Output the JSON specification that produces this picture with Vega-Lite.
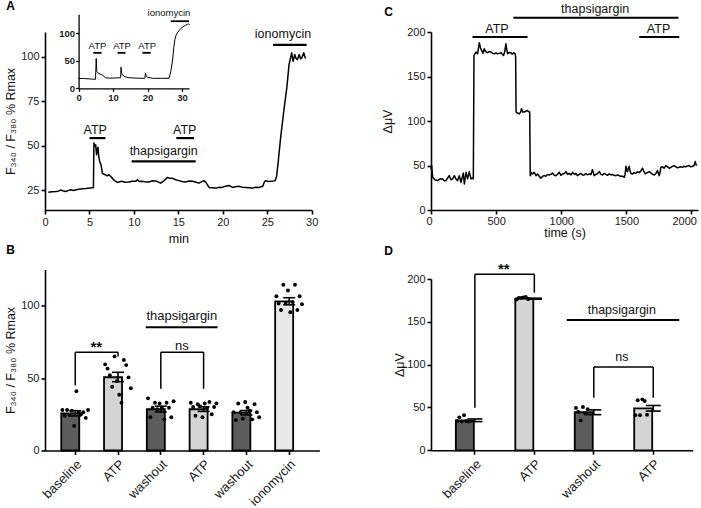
{
  "$schema": "https://vega.github.io/schema/vega-lite/v6.json",
  "background": "white",
  "padding": {"left": 4, "top": 0, "right": 4, "bottom": 4},
  "bounds": "full",
  "spacing": 61,
  "datasets": {
    "aTrace": [
      {"x":0.37,"y":24.0},{"x":0.8,"y":24.2},{"x":1.2,"y":24.4},{"x":1.5,"y":24.6},{"x":1.76,"y":25.2},{"x":2.0,"y":24.8},{"x":2.3,"y":24.4},{"x":2.6,"y":24.9},{"x":2.9,"y":25.4},{"x":3.2,"y":25.0},{"x":3.4,"y":25.2},{"x":3.8,"y":25.6},{"x":4.2,"y":26.0},{"x":4.6,"y":26.1},{"x":5.0,"y":26.3},{"x":5.3,"y":26.5},{"x":5.45,"y":26.6},{"x":5.5,"y":51.6},{"x":5.6,"y":50.0},{"x":5.7,"y":50.7},{"x":5.8,"y":45.0},{"x":5.9,"y":48.5},{"x":5.96,"y":49.2},{"x":6.05,"y":44},{"x":6.15,"y":41.3},{"x":6.3,"y":39.4},{"x":6.45,"y":34.7},{"x":6.6,"y":34.2},{"x":6.8,"y":33.8},{"x":7.0,"y":33.2},{"x":7.2,"y":33.8},{"x":7.4,"y":32.8},{"x":7.57,"y":31.9},{"x":7.8,"y":30.6},{"x":8.13,"y":29.5},{"x":8.4,"y":29.9},{"x":8.7,"y":30.1},{"x":9.0,"y":29.6},{"x":9.45,"y":29.7},{"x":9.8,"y":30.2},{"x":10.2,"y":30.1},{"x":10.4,"y":31.0},{"x":10.6,"y":30.0},{"x":10.95,"y":30.1},{"x":11.3,"y":29.8},{"x":11.7,"y":29.7},{"x":12.1,"y":30.4},{"x":12.6,"y":30.1},{"x":13.0,"y":29.1},{"x":13.4,"y":30.5},{"x":13.75,"y":32.3},{"x":14.0,"y":31.9},{"x":14.3,"y":31.9},{"x":14.7,"y":31.0},{"x":15.07,"y":30.5},{"x":15.4,"y":30.0},{"x":15.8,"y":29.7},{"x":16.2,"y":30.3},{"x":16.6,"y":30.1},{"x":17.0,"y":29.6},{"x":17.3,"y":29.1},{"x":17.6,"y":29.8},{"x":17.9,"y":30.5},{"x":18.1,"y":29.5},{"x":18.45,"y":26.7},{"x":18.8,"y":26.5},{"x":19.2,"y":26.3},{"x":19.6,"y":26.8},{"x":19.9,"y":26.7},{"x":20.3,"y":27.3},{"x":20.7,"y":27.8},{"x":21.1,"y":26.7},{"x":21.4,"y":27.0},{"x":21.8,"y":27.3},{"x":22.2,"y":26.8},{"x":22.6,"y":26.7},{"x":23.0,"y":26.5},{"x":23.3,"y":26.3},{"x":23.7,"y":26.8},{"x":24.1,"y":26.7},{"x":24.5,"y":27.3},{"x":24.65,"y":29.5},{"x":24.8,"y":30.5},{"x":25.1,"y":30.0},{"x":25.4,"y":30.1},{"x":25.7,"y":30.3},{"x":25.9,"y":30.5},{"x":26.05,"y":33},{"x":26.2,"y":39.5},{"x":26.5,"y":54.4},{"x":26.9,"y":71.3},{"x":27.2,"y":82.6},{"x":27.45,"y":95.7},{"x":27.6,"y":99},{"x":27.75,"y":102.3},{"x":27.9,"y":97.6},{"x":28.1,"y":101.4},{"x":28.25,"y":99},{"x":28.4,"y":98.5},{"x":28.6,"y":101.4},{"x":28.75,"y":99},{"x":28.9,"y":99.5},{"x":29.1,"y":102.3},{"x":29.3,"y":99.1}
    ],
    "aBars": [
      {"x":5.0,"x2":6.8,"y":54.4},{"x":14.77,"x2":16.76,"y":54.4},{"x":9.75,"x2":16.95,"y":41.3},{"x":25.65,"x2":29.43,"y":106.8}
    ],
    "aText": [
      {"x":5.65,"y":56.7,"t":"ATP"},{"x":15.72,"y":56.7,"t":"ATP"},{"x":13.35,"y":44.7,"t":"thapsigargin"},{"x":26.77,"y":110.7,"t":"ionomycin"}
    ],
    "insTrace": [
      {"x":0,"y":18},{"x":1.5,"y":17.8},{"x":3,"y":17.2},{"x":4.9,"y":16.4},{"x":5.1,"y":54.5},{"x":5.3,"y":30},{"x":5.5,"y":28.4},{"x":6.2,"y":26},{"x":6.9,"y":24.2},{"x":7.8,"y":19.3},{"x":9,"y":18.5},{"x":12.2,"y":19.3},{"x":12.3,"y":38.7},{"x":12.5,"y":27},{"x":12.7,"y":24.2},{"x":13.5,"y":21},{"x":14.6,"y":19.3},{"x":17,"y":18.5},{"x":19.2,"y":18.2},{"x":19.4,"y":27.3},{"x":19.6,"y":22},{"x":19.9,"y":20.5},{"x":21.4,"y":18.2},{"x":24,"y":18.2},{"x":26.2,"y":18.2},{"x":26.7,"y":30},{"x":27.2,"y":49.6},{"x":27.6,"y":75},{"x":27.9,"y":89},{"x":28.2,"y":96},{"x":28.6,"y":101},{"x":29.1,"y":105},{"x":29.6,"y":109},{"x":30.3,"y":112.5},{"x":31,"y":115},{"x":31.5,"y":116.5},{"x":31.8,"y":117.5},{"x":32.2,"y":116}
    ],
    "insBars": [
      {"x":4.26,"x2":6.67,"y":64.7},{"x":11.3,"x2":13.6,"y":64.7},{"x":18.5,"x2":20.9,"y":64.7},{"x":26.7,"x2":32.0,"y":122.4}
    ],
    "insText": [
      {"x":5.47,"y":72,"t":"ATP"},{"x":12.6,"y":72,"t":"ATP"},{"x":19.9,"y":72,"t":"ATP"},{"x":26.2,"y":131.5,"t":"ionomycin"}
    ],
    "cTrace": [
      {"x":0,"y":46},{"x":5,"y":50},{"x":13,"y":36.8},{"x":30,"y":34},{"x":51,"y":33},{"x":70,"y":35},{"x":89,"y":34.9},{"x":100,"y":33},{"x":115,"y":33},{"x":128,"y":36},{"x":140,"y":38.6},{"x":153,"y":34},{"x":166,"y":34.9},{"x":179,"y":38.6},{"x":191,"y":35},{"x":204,"y":33},{"x":217,"y":38.6},{"x":230,"y":31.2},{"x":248,"y":41.6},{"x":256,"y":29.3},{"x":269,"y":42.4},{"x":281,"y":34.9},{"x":294,"y":43.1},{"x":307,"y":34.9},{"x":316,"y":36},{"x":325,"y":34.9},{"x":330,"y":173.7},{"x":345,"y":177.5},{"x":358,"y":175.6},{"x":371,"y":188},{"x":380,"y":182},{"x":389,"y":179.3},{"x":400,"y":176},{"x":409,"y":181.2},{"x":420,"y":178},{"x":434,"y":176.7},{"x":447,"y":178},{"x":460,"y":177.5},{"x":473,"y":176},{"x":486,"y":175.6},{"x":499,"y":176.5},{"x":511,"y":175.6},{"x":524,"y":176},{"x":537,"y":176.7},{"x":547,"y":175},{"x":557,"y":173.7},{"x":566,"y":178},{"x":575,"y":186.8},{"x":582,"y":180},{"x":588,"y":175.6},{"x":601,"y":177},{"x":614,"y":176.7},{"x":624,"y":175},{"x":634,"y":176.7},{"x":645,"y":175.6},{"x":650,"y":172},{"x":653,"y":110},{"x":665,"y":109},{"x":678,"y":108},{"x":688,"y":110},{"x":695,"y":113.7},{"x":705,"y":110},{"x":716,"y":110},{"x":728,"y":111},{"x":741,"y":111.8},{"x":754,"y":110},{"x":758,"y":110},{"x":762,"y":38.6},{"x":771,"y":42},{"x":780,"y":40.5},{"x":793,"y":42.4},{"x":806,"y":38.6},{"x":818,"y":40.5},{"x":831,"y":38},{"x":844,"y":35.7},{"x":857,"y":38},{"x":870,"y":38.6},{"x":882,"y":38},{"x":895,"y":40},{"x":908,"y":39.4},{"x":920,"y":40},{"x":933,"y":41.6},{"x":946,"y":39},{"x":959,"y":38.6},{"x":972,"y":40},{"x":985,"y":42.4},{"x":997,"y":39},{"x":1010,"y":40.5},{"x":1023,"y":41},{"x":1036,"y":43.1},{"x":1050,"y":40},{"x":1062,"y":41},{"x":1075,"y":39.5},{"x":1087,"y":42.4},{"x":1100,"y":40},{"x":1112,"y":41},{"x":1125,"y":38.6},{"x":1138,"y":40},{"x":1150,"y":41},{"x":1163,"y":39.4},{"x":1176,"y":39.4},{"x":1189,"y":41},{"x":1202,"y":39.5},{"x":1215,"y":40.5},{"x":1228,"y":40},{"x":1240,"y":45.4},{"x":1253,"y":38.6},{"x":1266,"y":40},{"x":1279,"y":41},{"x":1292,"y":43.1},{"x":1305,"y":40},{"x":1317,"y":39.4},{"x":1330,"y":41},{"x":1343,"y":40},{"x":1355,"y":39},{"x":1368,"y":40.5},{"x":1381,"y":39.5},{"x":1394,"y":40},{"x":1407,"y":39},{"x":1420,"y":38.6},{"x":1433,"y":39.5},{"x":1446,"y":38.5},{"x":1458,"y":37.9},{"x":1471,"y":38},{"x":1484,"y":36.8},{"x":1490,"y":40},{"x":1497,"y":49.2},{"x":1503,"y":44},{"x":1509,"y":43.1},{"x":1515,"y":47},{"x":1522,"y":49.2},{"x":1528,"y":44},{"x":1535,"y":41},{"x":1547,"y":40.5},{"x":1560,"y":42},{"x":1573,"y":41},{"x":1586,"y":43.1},{"x":1599,"y":42},{"x":1612,"y":44},{"x":1624,"y":46.9},{"x":1635,"y":43},{"x":1645,"y":40.5},{"x":1660,"y":42},{"x":1675,"y":43.1},{"x":1690,"y":41.5},{"x":1701,"y":40},{"x":1714,"y":39.4},{"x":1726,"y":41},{"x":1739,"y":44.2},{"x":1752,"y":38.6},{"x":1758,"y":42},{"x":1765,"y":48},{"x":1778,"y":48.5},{"x":1790,"y":47},{"x":1803,"y":49.9},{"x":1816,"y":48.5},{"x":1829,"y":46.9},{"x":1842,"y":48},{"x":1855,"y":49},{"x":1867,"y":49.9},{"x":1880,"y":48.5},{"x":1893,"y":47.5},{"x":1906,"y":48},{"x":1918,"y":48.5},{"x":1931,"y":48},{"x":1944,"y":49.2},{"x":1957,"y":48.5},{"x":1969,"y":49.5},{"x":1982,"y":49.9},{"x":1995,"y":48.5},{"x":2008,"y":49.2},{"x":2020,"y":50},{"x":2029,"y":54.4},{"x":2035,"y":51},{"x":2040,"y":49.9}
    ],
    "cBars": [
      {"x":319,"x2":741,"y":194.4},{"x":632,"x2":1900,"y":216},{"x":1599,"x2":1906,"y":194.4}
    ],
    "cText": [
      {"x":506,"y":198.9,"t":"ATP"},{"x":1260,"y":221.7,"t":"thapsigargin"},{"x":1747,"y":198.9,"t":"ATP"}
    ],
    "bBars": [
      {"k":"baseline","m":25.7,"lo":23.9,"hi":27.5,"g":"d"},
      {"k":"ATP","m":50.6,"lo":47.5,"hi":54,"g":"l"},
      {"k":"washout","m":28.5,"lo":26.6,"hi":30.6,"g":"d"},
      {"k":"ATP-t","m":28.5,"lo":27,"hi":30.2,"g":"l"},
      {"k":"washout-t","m":26.1,"lo":24.6,"hi":27.6,"g":"d"},
      {"k":"ionomycin","m":103,"lo":100.6,"hi":105.5,"g":"p"}
    ],
    "bDots": [
      {"k":"baseline","n":1,"v":28},{"k":"baseline","n":2,"v":24},{"k":"baseline","n":3,"v":28},{"k":"baseline","n":4,"v":24.5},{"k":"baseline","n":5,"v":27.5},{"k":"baseline","n":6,"v":17},{"k":"baseline","n":7,"v":41},{"k":"baseline","n":8,"v":26.5},{"k":"baseline","n":9,"v":25},{"k":"baseline","n":10,"v":26.5},{"k":"baseline","n":11,"v":22.5},{"k":"baseline","n":12,"v":28},
      {"k":"ATP","n":1,"v":59.5},{"k":"ATP","n":2,"v":56.5},{"k":"ATP","n":3,"v":52},{"k":"ATP","n":4,"v":44},{"k":"ATP","n":5,"v":65},{"k":"ATP","n":6,"v":48},{"k":"ATP","n":7,"v":38.5},{"k":"ATP","n":8,"v":33},{"k":"ATP","n":9,"v":62.5},{"k":"ATP","n":10,"v":59},{"k":"ATP","n":11,"v":50.5},{"k":"ATP","n":12,"v":43},
      {"k":"washout","n":1,"v":36},{"k":"washout","n":2,"v":23},{"k":"washout","n":3,"v":29.5},{"k":"washout","n":4,"v":33},{"k":"washout","n":5,"v":28.5},{"k":"washout","n":6,"v":32.5},{"k":"washout","n":7,"v":29},{"k":"washout","n":8,"v":21.5},{"k":"washout","n":9,"v":33},{"k":"washout","n":10,"v":29.5},{"k":"washout","n":11,"v":23},{"k":"washout","n":12,"v":34},
      {"k":"ATP-t","n":1,"v":33},{"k":"ATP-t","n":2,"v":30},{"k":"ATP-t","n":3,"v":24},{"k":"ATP-t","n":4,"v":32},{"k":"ATP-t","n":5,"v":30.5},{"k":"ATP-t","n":6,"v":23},{"k":"ATP-t","n":7,"v":32.5},{"k":"ATP-t","n":8,"v":29.5},{"k":"ATP-t","n":9,"v":33.5},{"k":"ATP-t","n":10,"v":25},{"k":"ATP-t","n":11,"v":30},{"k":"ATP-t","n":12,"v":32.5},
      {"k":"washout-t","n":1,"v":26.5},{"k":"washout-t","n":2,"v":21},{"k":"washout-t","n":3,"v":32.5},{"k":"washout-t","n":4,"v":26.5},{"k":"washout-t","n":5,"v":22},{"k":"washout-t","n":6,"v":33.5},{"k":"washout-t","n":7,"v":29.5},{"k":"washout-t","n":8,"v":27.5},{"k":"washout-t","n":9,"v":21.5},{"k":"washout-t","n":10,"v":32},{"k":"washout-t","n":11,"v":26.5},{"k":"washout-t","n":12,"v":23},
      {"k":"ionomycin","n":1,"v":106.5},{"k":"ionomycin","n":2,"v":101.5},{"k":"ionomycin","n":3,"v":97},{"k":"ionomycin","n":4,"v":114.5},{"k":"ionomycin","n":5,"v":102},{"k":"ionomycin","n":6,"v":110.5},{"k":"ionomycin","n":7,"v":95.5},{"k":"ionomycin","n":8,"v":102.5},{"k":"ionomycin","n":9,"v":114.5},{"k":"ionomycin","n":10,"v":97},{"k":"ionomycin","n":11,"v":106.5},{"k":"ionomycin","n":12,"v":101}
    ],
    "bBr": [
      {"k":"baseline","k2":"baseline","y":44.9,"y2":67.9},
      {"k":"baseline","k2":"ATP","y":67.9,"y2":67.9},
      {"k":"ATP","k2":"ATP","y":65,"y2":67.9},
      {"k":"washout","k2":"washout","y":42.6,"y2":67.9},
      {"k":"washout","k2":"ATP-t","y":67.9,"y2":67.9},
      {"k":"ATP-t","k2":"ATP-t","y":42.6,"y2":67.9}
    ],
    "dBars": [
      {"k":"baseline","m":35,"lo":33.5,"hi":36.6,"g":"d"},
      {"k":"ATP","m":177,"lo":176.4,"hi":177.6,"g":"l"},
      {"k":"washout","m":44.4,"lo":41.6,"hi":47.2,"g":"d"},
      {"k":"ATP-t","m":49,"lo":45.8,"hi":52.3,"g":"l"}
    ],
    "dDots": [
      {"k":"baseline","n":1,"v":34},{"k":"baseline","n":2,"v":38.5},{"k":"baseline","n":3,"v":33.5},{"k":"baseline","n":4,"v":41},{"k":"baseline","n":5,"v":34},{"k":"baseline","n":6,"v":33.5},
      {"k":"ATP","n":1,"v":176},{"k":"ATP","n":2,"v":178},{"k":"ATP","n":3,"v":178},{"k":"ATP","n":4,"v":178.5},{"k":"ATP","n":5,"v":179},{"k":"ATP","n":6,"v":176.5},
      {"k":"washout","n":1,"v":49.5},{"k":"washout","n":2,"v":45},{"k":"washout","n":3,"v":35},{"k":"washout","n":4,"v":50.5},{"k":"washout","n":5,"v":43},{"k":"washout","n":6,"v":48},
      {"k":"ATP-t","n":1,"v":41},{"k":"ATP-t","n":2,"v":58.5},{"k":"ATP-t","n":3,"v":41},{"k":"ATP-t","n":4,"v":59.5},{"k":"ATP-t","n":5,"v":57.5},{"k":"ATP-t","n":6,"v":41.5}
    ],
    "dBr": [
      {"k":"baseline","k2":"baseline","y":49.7,"y2":205.6},
      {"k":"baseline","k2":"ATP","y":205.6,"y2":205.6},
      {"k":"ATP","k2":"ATP","y":184,"y2":205.6},
      {"k":"washout","k2":"washout","y":61.4,"y2":97.3},
      {"k":"washout","k2":"ATP-t","y":97.3,"y2":97.3},
      {"k":"ATP-t","k2":"ATP-t","y":61.4,"y2":97.3}
    ]
  },
  "hconcat": [
    {
      "bounds": "flush",
      "spacing": 59.5,
      "vconcat": [
        {
          "title": {"text": "A", "dx": -38.7, "dy": 9},
          "width": 266.7,
          "height": 178,
          "layer": [
            {
              "encoding": {
                "x": {"field": "x", "type": "quantitative", "scale": {"domain": [0, 30], "nice": false, "zero": false}, "axis": {"values": [0,5,10,15,20,25,30], "title": "min", "titlePadding": 5}},
                "y": {"field": "y", "type": "quantitative", "scale": {"domain": [14, 114], "nice": false, "zero": false}, "axis": {"values": [25,50,75,100], "title": "F₃₄₀ / F₃₈₀ % Rmax", "titleX": -27.5}}
              },
              "layer": [
                {"data": {"name": "aTrace"}, "mark": {"type": "line", "color": "#000", "strokeWidth": 1.5, "strokeJoin": "round"}},
                {"data": {"name": "aBars"}, "mark": {"type": "rule", "color": "#000", "strokeWidth": 2.2}, "encoding": {"x2": {"field": "x2"}}},
                {"data": {"name": "aText"}, "mark": {"type": "text", "fontSize": 12.5, "baseline": "alphabetic", "align": "center"}, "encoding": {"text": {"field": "t"}}}
              ]
            },
            {
              "encoding": {
                "x": {"field": "x", "type": "quantitative", "scale": {"domain": [0, 32], "range": [33.6, 144], "nice": false, "zero": false}, "axis": {"orient": "bottom", "offset": -121.7, "values": [0,10,20,30], "title": null, "labelFontWeight": "bold", "labelFontSize": 9.5, "tickSize": 3, "domainWidth": 1.3, "tickWidth": 1.3, "labelPadding": 1}},
                "y": {"field": "y", "type": "quantitative", "scale": {"domain": [0, 135], "range": [56.3, -17.7], "nice": false, "zero": false}, "axis": {"orient": "left", "offset": -33.6, "values": [0,50,100], "title": null, "labelFontWeight": "bold", "labelFontSize": 9.5, "tickSize": 3, "domainWidth": 1.3, "tickWidth": 1.3, "labelPadding": 1}}
              },
              "layer": [
                {"data": {"name": "insTrace"}, "mark": {"type": "line", "color": "#000", "strokeWidth": 1}},
                {"data": {"name": "insBars"}, "mark": {"type": "rule", "color": "#000", "strokeWidth": 1.8}, "encoding": {"x2": {"field": "x2"}}},
                {"data": {"name": "insText"}, "mark": {"type": "text", "fontSize": 9.5, "baseline": "alphabetic", "align": "center"}, "encoding": {"text": {"field": "t"}}}
              ]
            }
          ],
          "resolve": {"scale": {"x": "independent", "y": "independent"}, "axis": {"x": "independent", "y": "independent"}}
        },
        {
          "title": {"text": "B", "dx": -38.7, "dy": -9},
          "width": 274.4,
          "height": 181,
          "encoding": {
            "x": {"field": "k", "type": "nominal", "scale": {"domain": ["baseline","ATP","washout","ATP-t","washout-t","ionomycin"], "paddingInner": 0.346, "paddingOuter": 0.38}, "axis": {"title": null, "labelExpr": "split(datum.label, '-')[0]", "labelAngle": -45, "labelAlign": "right", "labelBaseline": "top", "labelFontSize": 13, "labelPadding": 3}}
          },
          "layer": [
            {"data": {"name": "bBars"}, "mark": {"type": "bar", "stroke": "#000", "strokeWidth": 1.8},
             "encoding": {
               "y": {"field": "m", "type": "quantitative", "scale": {"domain": [0, 125], "nice": false}, "axis": {"values": [0,50,100], "title": "F₃₄₀ / F₃₈₀ % Rmax", "titleX": -27.5}},
               "fill": {"field": "g", "type": "nominal", "scale": {"domain": ["d","l","p"], "range": ["#5c5c5c","#d4d4d4","#e8e8e8"]}, "legend": null}
             }},
            {"data": {"name": "bBars"}, "mark": {"type": "rule", "color": "#000", "strokeWidth": 1.6}, "encoding": {"y": {"field": "lo", "type": "quantitative"}, "y2": {"field": "hi"}}},
            {"data": {"name": "bBars"}, "mark": {"type": "tick", "color": "#000", "thickness": 1.6, "size": 12, "opacity": 1}, "encoding": {"y": {"field": "lo", "type": "quantitative"}}},
            {"data": {"name": "bBars"}, "mark": {"type": "tick", "color": "#000", "thickness": 1.6, "size": 12, "opacity": 1}, "encoding": {"y": {"field": "hi", "type": "quantitative"}}},
            {"data": {"name": "bDots"}, "mark": {"type": "circle", "size": 15, "color": "#000", "opacity": 1}, "encoding": {"y": {"field": "v", "type": "quantitative"}, "xOffset": {"field": "n", "type": "ordinal"}}},
            {"data": {"name": "bBr"}, "mark": {"type": "rule", "color": "#000", "strokeWidth": 1.5}, "encoding": {"x2": {"field": "k2"}, "y": {"field": "y", "type": "quantitative"}, "y2": {"field": "y2"}}},
            {"data": {"values": [{"k":"washout","k2":"ATP-t","y":85.2}]}, "mark": {"type": "rule", "color": "#000", "strokeWidth": 2, "xOffset": -15, "x2Offset": 14}, "encoding": {"x2": {"field": "k2"}, "y": {"field": "y", "type": "quantitative"}}},
            {"data": {"values": [{"k":"washout","y":69.5,"t":"ns"},{"k":"washout","y":90.3,"t":"thapsigargin"}]}, "mark": {"type": "text", "fontSize": 13, "dx": 21, "baseline": "alphabetic", "align": "center"}, "encoding": {"y": {"field": "y", "type": "quantitative"}, "text": {"field": "t"}}},
            {"data": {"values": [{"k":"baseline","y":68.3,"t":"**"}]}, "mark": {"type": "text", "fontSize": 15, "fontWeight": "bold", "dx": 21, "baseline": "alphabetic", "align": "center"}, "encoding": {"y": {"field": "y", "type": "quantitative"}, "text": {"field": "t"}}}
          ]
        }
      ]
    },
    {
      "bounds": "flush",
      "spacing": 69,
      "vconcat": [
        {
          "title": {"text": "C", "dx": -46.7, "dy": 20},
          "width": 267,
          "height": 178,
          "encoding": {
            "x": {"field": "x", "type": "quantitative", "scale": {"domain": [0, 2050], "nice": false, "zero": false}, "axis": {"values": [0,500,1000,1500,2000], "format": "d", "title": "time (s)", "titlePadding": 0, "labelPadding": 1, "labelFlush": 8, "labelFlushOffset": 5}},
            "y": {"field": "y", "type": "quantitative", "scale": {"domain": [0, 200], "nice": false}, "axis": {"values": [0,50,100,150,200], "title": "ΔμV", "titleX": -36.5}}
          },
          "layer": [
            {"data": {"name": "cTrace"}, "mark": {"type": "line", "color": "#000", "strokeWidth": 1.5, "strokeJoin": "round"}},
            {"data": {"name": "cBars"}, "mark": {"type": "rule", "color": "#000", "strokeWidth": 2}, "encoding": {"x2": {"field": "x2"}}},
            {"data": {"name": "cText"}, "mark": {"type": "text", "fontSize": 12.5, "baseline": "alphabetic", "align": "center"}, "encoding": {"text": {"field": "t"}}}
          ]
        },
        {
          "title": {"text": "D", "dx": -46.7, "dy": 0},
          "width": 261.6,
          "height": 171.3,
          "encoding": {
            "x": {"field": "k", "type": "nominal", "scale": {"domain": ["baseline","ATP","washout","ATP-t"], "paddingInner": 0.36, "paddingOuter": 0.38, "align": 0.55}, "axis": {"title": null, "labelExpr": "split(datum.label, '-')[0]", "labelAngle": -45, "labelAlign": "right", "labelBaseline": "top", "labelFontSize": 13, "labelPadding": 3}}
          },
          "layer": [
            {"data": {"name": "dBars"}, "mark": {"type": "bar", "stroke": "#000", "strokeWidth": 1.8},
             "encoding": {
               "y": {"field": "m", "type": "quantitative", "scale": {"domain": [0, 200], "nice": false}, "axis": {"values": [0,50,100,150,200], "title": "ΔμV", "titleX": -24.3}},
               "fill": {"field": "g", "type": "nominal", "scale": {"domain": ["d","l"], "range": ["#5c5c5c","#d4d4d4"]}, "legend": null}
             }},
            {"data": {"name": "dBars"}, "mark": {"type": "rule", "color": "#000", "strokeWidth": 1.6}, "encoding": {"y": {"field": "lo", "type": "quantitative"}, "y2": {"field": "hi"}}},
            {"data": {"name": "dBars"}, "mark": {"type": "tick", "color": "#000", "thickness": 1.6, "size": 15, "opacity": 1}, "encoding": {"y": {"field": "lo", "type": "quantitative"}}},
            {"data": {"name": "dBars"}, "mark": {"type": "tick", "color": "#000", "thickness": 1.6, "size": 15, "opacity": 1}, "encoding": {"y": {"field": "hi", "type": "quantitative"}}},
            {"data": {"name": "dDots"}, "mark": {"type": "circle", "size": 15, "color": "#000", "opacity": 1}, "encoding": {"y": {"field": "v", "type": "quantitative"}, "xOffset": {"field": "n", "type": "ordinal", "scale": {"paddingOuter": 0.5}}}},
            {"data": {"name": "dBr"}, "mark": {"type": "rule", "color": "#000", "strokeWidth": 1.5}, "encoding": {"x2": {"field": "k2"}, "y": {"field": "y", "type": "quantitative"}, "y2": {"field": "y2"}}},
            {"data": {"values": [{"k":"washout","k2":"ATP-t","y":152.1}]}, "mark": {"type": "rule", "color": "#000", "strokeWidth": 2, "xOffset": -27, "x2Offset": 26}, "encoding": {"x2": {"field": "k2"}, "y": {"field": "y", "type": "quantitative"}}},
            {"data": {"values": [{"k":"washout","y":104.3,"t":"ns"},{"k":"washout","y":158.8,"t":"thapsigargin"}]}, "mark": {"type": "text", "fontSize": 12.5, "dx": 28, "baseline": "alphabetic", "align": "center"}, "encoding": {"y": {"field": "y", "type": "quantitative"}, "text": {"field": "t"}}},
            {"data": {"values": [{"k":"baseline","y":206,"t":"**"}]}, "mark": {"type": "text", "fontSize": 15, "fontWeight": "bold", "dx": 29, "baseline": "alphabetic", "align": "center"}, "encoding": {"y": {"field": "y", "type": "quantitative"}, "text": {"field": "t"}}}
          ]
        }
      ]
    }
  ],
  "config": {
    "font": "Liberation Sans",
    "view": {"stroke": null},
    "axis": {"grid": false, "domainColor": "#000", "domainWidth": 1.6, "tickColor": "#000", "tickWidth": 1.6, "tickSize": 4, "labelFont": "Liberation Sans", "labelFontSize": 11, "labelColor": "#1a1a1a", "labelPadding": 2, "labelFlush": false, "labelOverlap": false, "titleFont": "Liberation Sans", "titleFontSize": 12.5, "titleFontWeight": "normal", "titleColor": "#111"},
    "title": {"font": "Liberation Sans", "fontSize": 12, "fontWeight": "bold", "anchor": "start", "frame": "group", "offset": 0, "color": "#000", "baseline": "bottom"},
    "text": {"font": "Liberation Sans", "fontSize": 12, "color": "#111"}
  }
}
